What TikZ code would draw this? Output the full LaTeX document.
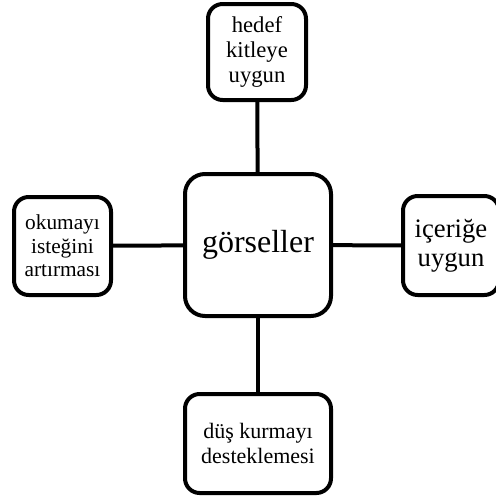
\documentclass[tikz,border=0pt]{standalone}
\usepackage{fontspec}
\setmainfont{Liberation Serif}

\begin{document}
\begin{tikzpicture}[x=0.75pt,y=-0.75pt]
    \tikzstyle{kutu}=[draw=black, line width=3pt, rounded corners=11pt, fill=white, align=center, inner sep=0pt]
    \tikzstyle{bag}=[draw=black, line width=3pt]
    \useasboundingbox (0,0) rectangle (496,497);
    \node [kutu, minimum width=109.5pt, minimum height=106.5pt, rounded corners=15pt, font=\fontsize{24}{26}\selectfont] (gorsel) at (258,245) {görseller};
    \node [kutu, minimum width=73.5pt, minimum height=72pt, font=\fontsize{17}{18.5}\selectfont] (hedef) at (257,52) {hedef\\kitleye\\uygun};
    \node [kutu, minimum width=72.75pt, minimum height=73.5pt, font=\fontsize{16}{17.5}\selectfont] (okuma) at (62.5,246) {okumayı\\isteğini\\artırması};
    \node [kutu, minimum width=72pt, minimum height=74.25pt, font=\fontsize{20}{22}\selectfont] (icerik) at (451,245.5) {içeriğe\\uygun};
    \node [kutu, minimum width=109.5pt, minimum height=74.25pt, font=\fontsize{16.5}{19}\selectfont] (dus) at (258,443.5) {düş kurmayı\\desteklemesi};
    \draw [bag] (gorsel) -- (hedef);
    \draw [bag] (gorsel) -- (okuma);
    \draw [bag] (gorsel) -- (icerik);
    \draw [bag] (gorsel) -- (dus);
\end{tikzpicture}
\end{document}
